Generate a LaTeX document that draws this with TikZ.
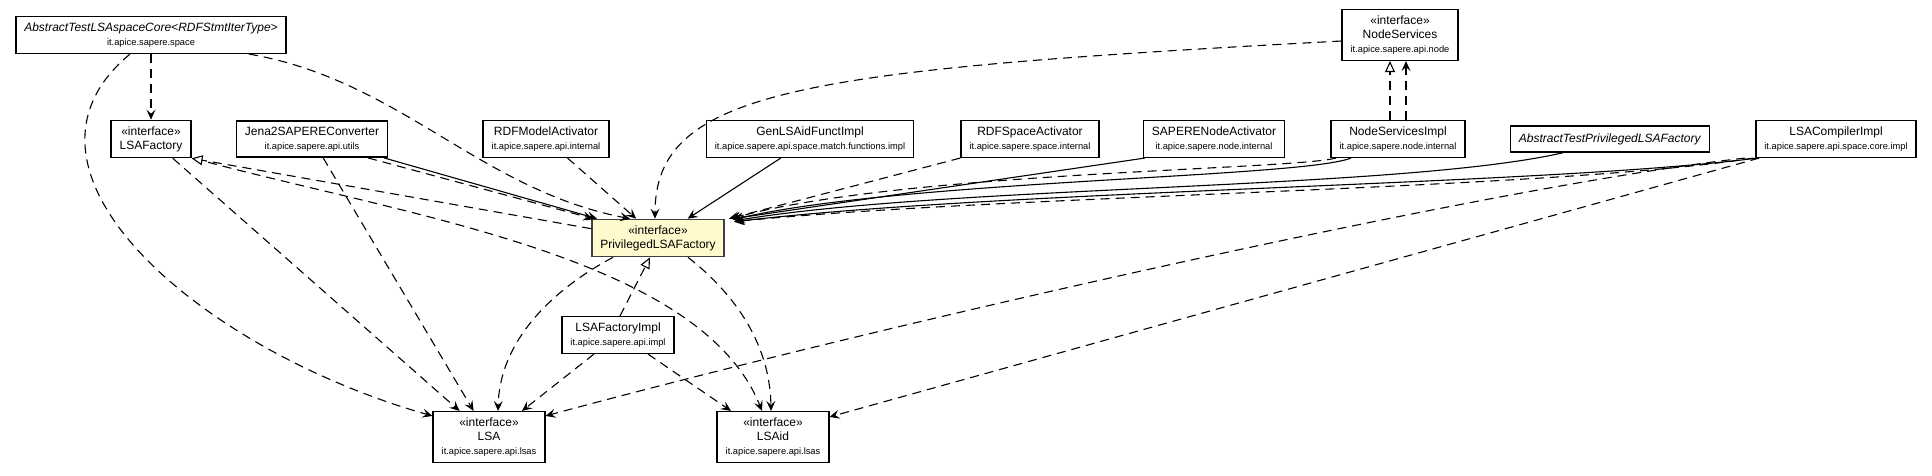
\documentclass[tikz,border=0pt]{standalone}
\usepackage{fontspec}
\setmainfont{Liberation Sans}
\usepackage{tikz}
\usetikzlibrary{arrows.meta}
\definecolor{ctxfill}{RGB}{255,250,205}
\newcommand{\pkgname}[1]{{\fontsize{9.3}{14}\selectfont #1}}

\begin{document}
\begin{tikzpicture}[x=1pt, y=-1pt,
  cls/.style={draw, line width=1.5pt, fill=white, align=center, inner xsep=8.5pt, inner ysep=6pt, font=\fontsize{12}{14}\selectfont},
  ctx/.style={cls, fill=ctxfill, draw=black!75},
  dep/.style={line width=1.1pt, dash pattern=on 9pt off 6pt, -{Stealth[length=10pt,width=9pt,inset=4pt]}},
  use/.style={line width=1.1pt, -{Stealth[length=10pt,width=9pt,inset=4pt]}},
  impl/.style={line width=1.1pt, dash pattern=on 9pt off 6pt, -{Triangle[length=11pt,width=10pt,fill=white]}}]

\useasboundingbox (0,0) rectangle (1932,475);

\node[cls] (atcore) at (151,35) {\textit{AbstractTestLSAspaceCore<RDFStmtIterType>}\\\pkgname{it.apice.sapere.space}};
\node[cls] (nsvc) at (1400,35) {«interface»\\NodeServices\\\pkgname{it.apice.sapere.api.node}};

\node[cls] (lsafac) at (151,139) {«interface»\\LSAFactory};
\node[cls] (jena) at (312,139) {Jena2SAPEREConverter\\\pkgname{it.apice.sapere.api.utils}};
\node[cls] (rdfmod) at (546,139) {RDFModelActivator\\\pkgname{it.apice.sapere.api.internal}};
\node[cls] (genfun) at (810,139) {GenLSAidFunctImpl\\\pkgname{it.apice.sapere.api.space.match.functions.impl}};
\node[cls] (rdfspace) at (1030,139) {RDFSpaceActivator\\\pkgname{it.apice.sapere.space.internal}};
\node[cls] (sapnode) at (1214,139) {SAPERENodeActivator\\\pkgname{it.apice.sapere.node.internal}};
\node[cls] (nsimpl) at (1398,139) {NodeServicesImpl\\\pkgname{it.apice.sapere.node.internal}};
\node[cls, minimum height=26pt] (atpriv) at (1610,139) {\textit{AbstractTestPrivilegedLSAFactory}};
\node[cls] (lsacomp) at (1836,139) {LSACompilerImpl\\\pkgname{it.apice.sapere.api.space.core.impl}};

\node[ctx] (priv) at (658,238) {«interface»\\PrivilegedLSAFactory};
\node[cls] (lsaimpl) at (618,335) {LSAFactoryImpl\\\pkgname{it.apice.sapere.api.impl}};

\node[cls] (lsa) at (489,437) {«interface»\\LSA\\\pkgname{it.apice.sapere.api.lsas}};
\node[cls] (lsaid) at (773,437) {«interface»\\LSAid\\\pkgname{it.apice.sapere.api.lsas}};

\draw[dep] (atcore) -- (lsafac);
\draw[dep] ([xshift=-21pt]atcore.south) .. controls (-10,170) and (200,350) .. ([yshift=-5pt]lsa.north west);
\draw[dep] ([xshift=98pt]atcore.south) .. controls (400,80) and (480,190) .. ([xshift=-28pt]priv.north);

\draw[dep] (lsafac) -- (lsa);
\draw[dep] ([xshift=2pt]lsafac.south east) .. controls (400,215) and (700,255) .. ([xshift=-11pt]lsaid.north);
\draw[impl] ([yshift=-10pt]priv.north west) -- (lsafac.south east);

\draw[dep] (jena) -- (lsa);
\draw[use] ([xshift=72pt]jena.south) -- ([xshift=6pt]priv.north west);
\draw[dep] ([xshift=56pt]jena.south) -- ([xshift=2pt]priv.north west);

\draw[dep] (rdfmod) -- (priv);
\draw[dep] ([yshift=-6pt]nsvc.west) .. controls (800,70) and (655,90) .. ([xshift=-3pt]priv.north);
\draw[use] (genfun) -- (priv);
\draw[dep] (rdfspace.south west) -- ([xshift=4pt]priv.north east);
\draw[use] ([xshift=2pt]sapnode.south west) -- ([xshift=8pt]priv.north east);

\draw[use] ([xshift=-47pt]nsimpl.south) .. controls (1300,178) and (900,180) .. ([xshift=8pt,yshift=-1pt]priv.north east);
\draw[dep] ([xshift=-62pt]nsimpl.south) .. controls (1290,170) and (900,172) .. ([xshift=6pt]priv.north east);
\draw[impl] ([xshift=-8pt]nsimpl.north) -- ([xshift=-10pt]nsvc.south);
\draw[dep] ([xshift=8pt]nsimpl.north) -- ([xshift=6pt]nsvc.south);

\draw[use] ([xshift=-47pt]atpriv.south) .. controls (1400,190) and (950,185) .. ([xshift=10pt,yshift=-2pt]priv.north east);

\draw[use] ([xshift=2pt]lsacomp.south west) .. controls (1550,185) and (1000,190) .. ([xshift=10pt,yshift=-3pt]priv.north east);
\draw[dep] ([xshift=-2pt]lsacomp.south west) .. controls (1550,190) and (1000,195) .. ([xshift=9pt,yshift=-3pt]priv.north east);
\draw[dep] ([xshift=-10pt]lsacomp.south west) .. controls (1500,185) and (900,320) .. ([yshift=-5pt]lsa.north east);
\draw[dep] ([xshift=4pt]lsacomp.south west) -- ([yshift=-6pt]lsaid.north east);

\draw[dep] ([xshift=-45pt]priv.south) .. controls (570,280) and (500,330) .. ([xshift=9pt]lsa.north);
\draw[dep] ([xshift=30pt]priv.south) .. controls (730,290) and (770,340) .. ([xshift=-2pt]lsaid.north);

\draw[impl] ([xshift=2pt]lsaimpl.north) -- ([xshift=-8pt]priv.south);
\draw[dep] ([xshift=-24pt]lsaimpl.south) -- ([xshift=33pt]lsa.north);
\draw[dep] ([xshift=30pt]lsaimpl.south) -- ([xshift=-42pt]lsaid.north);
\end{tikzpicture}
\end{document}
